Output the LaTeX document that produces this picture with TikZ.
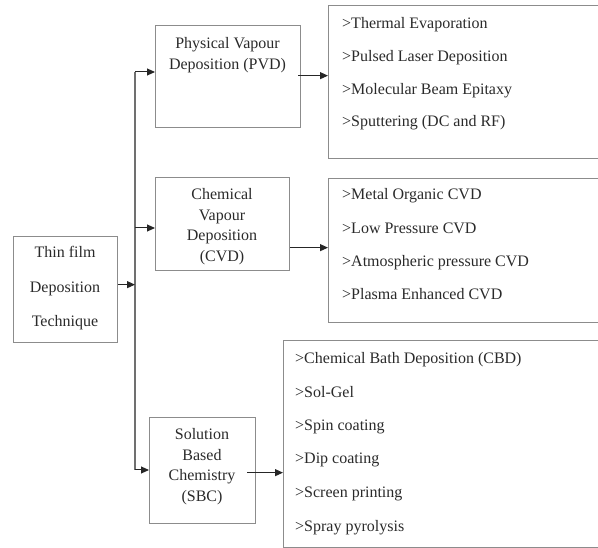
\documentclass[tikz,border=0pt]{standalone}
\usepackage{fontspec}
\setmainfont{Liberation Serif}
\usetikzlibrary{arrows.meta}
\definecolor{boxgray}{HTML}{8C8C8C}
\definecolor{txtgray}{HTML}{2A2A2A}
\begin{document}
\begin{tikzpicture}[x=1pt,y=-1pt,
  box/.style={draw=boxgray,line width=1.3pt,rectangle,inner sep=0pt,anchor=north west},
  lbl/.style={text=txtgray,font=\fontsize{16}{19}\selectfont,inner sep=0pt,text height=14pt,text depth=0pt},
  item/.style={lbl,anchor=west},
  arr/.style={draw=black!85,line width=1pt,-{Triangle[length=8pt,width=7pt]}},
  ln/.style={draw=boxgray!80!black,line width=1.3pt}]
\useasboundingbox (0,0) rectangle (598,548);
% boxes
\node[box,minimum width=104pt,minimum height=106pt] (thin) at (13,236) {};
\node[box,minimum width=145pt,minimum height=102pt] (pvd) at (155,25) {};
\node[box,minimum width=134pt,minimum height=93pt] (cvd) at (155,177) {};
\node[box,minimum width=106pt,minimum height=106pt] (sbc) at (149,417) {};
\node[box,minimum width=300pt,minimum height=153pt] (pvdlist) at (328,5) {};
\node[box,minimum width=300pt,minimum height=144pt] (cvdlist) at (328,178) {};
\node[box,minimum width=345pt,minimum height=207pt] (sbclist) at (283,340) {};
% box texts
\node[lbl] (t1) at (65,251) {Thin film};
\node[lbl] (t2) at (65,286) {Deposition};
\node[lbl] (t3) at (65,320) {Technique};
\node[lbl] (p1) at (227.5,42) {Physical Vapour};
\node[lbl] (p2) at (227.5,63) {Deposition (PVD)};
\node[lbl] (c1) at (222,193) {Chemical};
\node[lbl] (c2) at (222,213.5) {Vapour};
\node[lbl] (c3) at (222,234) {Deposition};
\node[lbl] (c4) at (222,254.5) {(CVD)};
\node[lbl] (s1) at (202,433) {Solution};
\node[lbl] (s2) at (202,453.5) {Based};
\node[lbl] (s3) at (202,474) {Chemistry};
\node[lbl] (s4) at (202,494.5) {(SBC)};
% list items
\node[item] (pa) at (342,22) {>Thermal Evaporation};
\node[item] (pb) at (342,55) {>Pulsed Laser Deposition};
\node[item] (pc) at (342,88) {>Molecular Beam Epitaxy};
\node[item] (pd) at (342,120) {>Sputtering (DC and RF)};
\node[item] (ca) at (342,193) {>Metal Organic CVD};
\node[item] (cb) at (342,226.5) {>Low Pressure CVD};
\node[item] (cc) at (342,260) {>Atmospheric pressure CVD};
\node[item] (cd) at (342,293) {>Plasma Enhanced CVD};
\node[item] (sa) at (295,357) {>Chemical Bath Deposition (CBD)};
\node[item] (sb) at (295,390.5) {>Sol-Gel};
\node[item] (sc) at (295,424) {>Spin coating};
\node[item] (sd) at (295,457) {>Dip coating};
\node[item] (se) at (295,490.5) {>Screen printing};
\node[item] (sf) at (295,524) {>Spray pyrolysis};
% connectors
\coordinate (sT) at (135,72);
\coordinate (sM) at (135,228);
\coordinate (sB) at (135,470);
\draw[ln] (sT) -- (sB);
\draw[arr] ([yshift=5pt]thin.east) -- ([yshift=5pt]thin.east -| sT);
\draw[arr] (sT) -- (sT -| pvd.west);
\draw[arr] (sM) -- (sM -| cvd.west);
\draw[arr] (sB) -- (sB -| sbc.west);
\draw[arr] ([xshift=-3pt,yshift=1pt]pvd.east) -- ([yshift=1pt]pvd.east -| pvdlist.west);
\draw[arr] ([yshift=-23.5pt]cvd.east) -- ([yshift=-23.5pt]cvd.east -| cvdlist.west);
\draw[arr] ([xshift=-9pt,yshift=-2pt]sbc.east) -- ([yshift=-2pt]sbc.east -| sbclist.west);
\end{tikzpicture}
\end{document}
